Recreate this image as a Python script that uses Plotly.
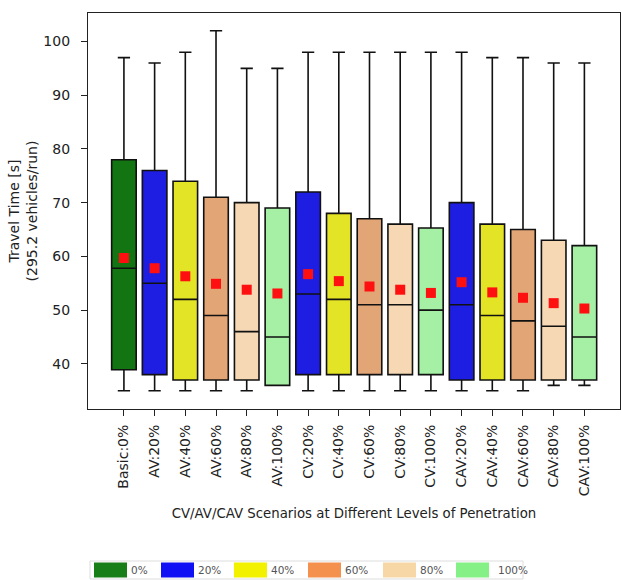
import plotly.graph_objects as go

categories = ["Basic:0%", "AV:20%", "AV:40%", "AV:60%", "AV:80%", "AV:100%",
              "CV:20%", "CV:40%", "CV:60%", "CV:80%", "CV:100%",
              "CAV:20%", "CAV:40%", "CAV:60%", "CAV:80%", "CAV:100%"]
lower_whisker = [35, 35, 35, 35, 35, 36, 35, 35, 35, 35, 35, 35, 35, 35, 36, 36]
q1 = [38.9, 38, 37, 37, 37, 36, 38, 38, 38, 38, 38, 37, 37, 37, 37, 37]
median = [57.8, 55, 52, 49, 46, 45, 53, 52, 51, 51, 50, 51, 49, 48, 47, 45]
q3 = [78, 76, 74, 71, 70, 69, 72, 68, 67, 66, 65.3, 70, 66, 65, 63, 62]
upper_whisker = [97, 96, 98, 102, 95, 95, 98, 98, 98, 98, 98, 98, 97, 97, 96, 96]
mean = [59.7, 57.8, 56.3, 54.9, 53.8, 53.1, 56.7, 55.4, 54.4, 53.8, 53.2, 55.2, 53.3, 52.3, 51.3, 50.3]
levels = ["0%", "20%", "40%", "60%", "80%", "100%"]
level_index = [0, 1, 2, 3, 4, 5, 1, 2, 3, 4, 5, 1, 2, 3, 4, 5]
box_colors = ["#127512", "#1e1ee2", "#e4e426", "#e2a576", "#f6d8b5", "#a5f0a5"]
legend_colors = ["#187f18", "#1010f5", "#f2f200", "#f5914f", "#f6d7a5", "#85f085"]

fig = go.Figure()
for i, cat in enumerate(categories):
    fig.add_trace(go.Box(
        x=[i], q1=[q1[i]], median=[median[i]], q3=[q3[i]],
        lowerfence=[lower_whisker[i]], upperfence=[upper_whisker[i]],
        width=0.8, whiskerwidth=0.5,
        fillcolor=box_colors[level_index[i]],
        line=dict(color="#111111", width=1.6),
        showlegend=False, hoverinfo="skip",
    ))

fig.add_trace(go.Scatter(
    x=list(range(len(categories))), y=mean, mode="markers",
    marker=dict(symbol="square", size=10, color="#ff1010"),
    showlegend=False,
))

# legend drawn as wide swatches below the chart
L, R, T, B = 88, 620, 13, 409
def px(xp):
    return (xp - L) / (R - L)
def py(yp):
    return (B - yp) / (B - T)

shapes = [dict(type="rect", xref="paper", yref="paper",
               x0=px(90), x1=px(523), y0=py(561), y1=py(579),
               line=dict(color="#dddddd", width=1), fillcolor="white")]
annotations = []
sw_x = [94, 161, 234, 308, 383, 456]
sw_w = 33
for k, lev in enumerate(levels):
    shapes.append(dict(type="rect", xref="paper", yref="paper",
                       x0=px(sw_x[k]), x1=px(sw_x[k] + sw_w),
                       y0=py(562.5), y1=py(577.5),
                       line=dict(width=0), fillcolor=legend_colors[k]))
    annotations.append(dict(xref="paper", yref="paper",
                            x=px(sw_x[k] + sw_w + 2 + (5 if k == 5 else 0)), y=py(570),
                            text=lev, showarrow=False, xanchor="left", yanchor="middle",
                            font=dict(size=10.5, color="#555555", family="DejaVu Sans")))

fig.update_layout(
    width=621, height=580,
    margin=dict(l=L, r=621 - R, t=T, b=580 - B),
    plot_bgcolor="white", paper_bgcolor="white",
    font=dict(family="DejaVu Sans", size=14, color="#222222"),
    shapes=shapes, annotations=annotations,
    xaxis=dict(
        range=[-1.17, 16.16], tickmode="array",
        tickvals=list(range(len(categories))), ticktext=categories,
        tickangle=-90, ticks="outside", ticklen=6, tickcolor="#222222",
        ticklabelstandoff=3,
        showline=True, linecolor="#222222", linewidth=1.2, mirror=True,
        showgrid=False, zeroline=False,
        title=dict(text="CV/AV/CAV Scenarios at Different Levels of Penetration",
                   font=dict(size=13.3), standoff=13),
    ),
    yaxis=dict(
        range=[31.6, 105.3], tickvals=[40, 50, 60, 70, 80, 90, 100],
        ticks="outside", ticklen=6, tickcolor="#222222",
        ticklabelstandoff=8,
        showline=True, linecolor="#222222", linewidth=1.2, mirror=True,
        showgrid=False, zeroline=False,
        title=dict(text="Travel Time [s]<br>(295.2 vehicles/run)",
                   font=dict(size=14), standoff=2),
    ),
)

fig.write_html("out.html")
